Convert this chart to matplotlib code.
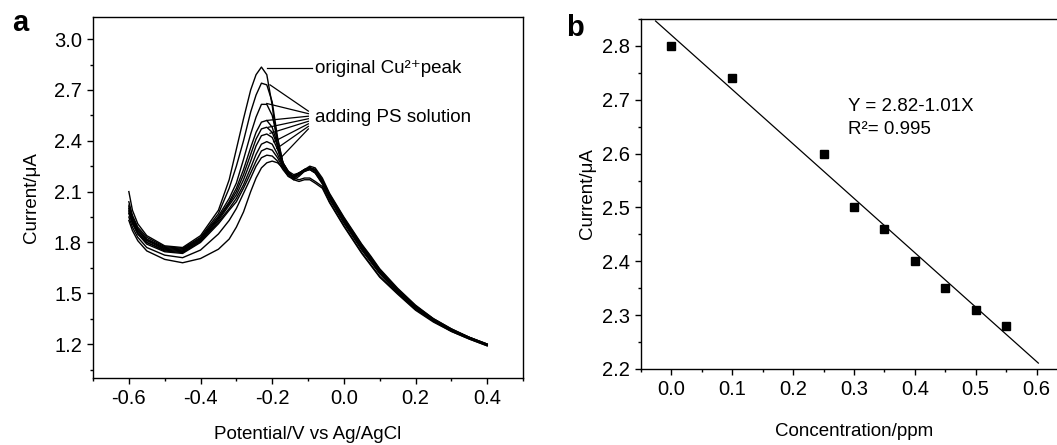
import matplotlib
matplotlib.use("Agg")
import matplotlib.pyplot as plt
from matplotlib.ticker import MultipleLocator

plt.rcParams['font.family'] = ['Liberation Sans', 'DejaVu Sans']

# Panel a: stripping voltammograms (potential in V, current in uA)
potential = [-0.60, -0.59, -0.575, -0.55, -0.50, -0.45, -0.40, -0.35, -0.32, -0.30,
             -0.28, -0.26, -0.245, -0.23, -0.215, -0.20, -0.185, -0.17, -0.155, -0.14,
             -0.125, -0.11, -0.095, -0.08, -0.06, -0.04, -0.02, 0.00, 0.025, 0.05,
             0.075, 0.10, 0.15, 0.20, 0.25, 0.30, 0.35, 0.40]

curve_original = [2.10, 1.99, 1.91, 1.84, 1.78, 1.77, 1.84, 1.99, 2.17, 2.35, 2.53, 2.70, 2.79, 2.835,
                  2.79, 2.61, 2.36, 2.25, 2.21, 2.17, 2.16, 2.17, 2.17, 2.15, 2.12, 2.035, 1.965,
                  1.895, 1.815, 1.735, 1.665, 1.595, 1.495, 1.40, 1.33, 1.275, 1.23, 1.19]
curve_ps1 = [2.04, 1.96, 1.89, 1.83, 1.775, 1.765, 1.83, 1.97, 2.12, 2.25, 2.40, 2.57, 2.67, 2.74,
             2.73, 2.63, 2.42, 2.27, 2.22, 2.18, 2.17, 2.18, 2.18, 2.16, 2.13, 2.04, 1.97, 1.90,
             1.82, 1.74, 1.67, 1.60, 1.50, 1.405, 1.335, 1.275, 1.23, 1.19]
curve_ps2 = [2.02, 1.95, 1.88, 1.82, 1.77, 1.76, 1.825, 1.955, 2.06, 2.15, 2.29, 2.44, 2.54, 2.615,
             2.615, 2.55, 2.41, 2.27, 2.22, 2.20, 2.21, 2.22, 2.23, 2.21, 2.145, 2.055, 1.985, 1.915,
             1.835, 1.755, 1.685, 1.615, 1.505, 1.41, 1.34, 1.28, 1.235, 1.195]
curve_ps3 = [2.01, 1.94, 1.87, 1.815, 1.765, 1.755, 1.82, 1.945, 2.04, 2.12, 2.23, 2.36, 2.45, 2.51,
             2.52, 2.48, 2.38, 2.27, 2.21, 2.19, 2.20, 2.22, 2.23, 2.21, 2.15, 2.06, 1.99, 1.92,
             1.84, 1.76, 1.69, 1.62, 1.51, 1.415, 1.34, 1.28, 1.235, 1.195]
curve_ps4 = [2.00, 1.93, 1.87, 1.81, 1.76, 1.75, 1.815, 1.94, 2.03, 2.10, 2.20, 2.32, 2.41, 2.47,
             2.48, 2.45, 2.37, 2.27, 2.21, 2.19, 2.21, 2.23, 2.24, 2.22, 2.155, 2.065, 1.995, 1.925,
             1.845, 1.765, 1.695, 1.625, 1.515, 1.415, 1.34, 1.28, 1.235, 1.195]
curve_ps5 = [1.99, 1.92, 1.86, 1.80, 1.755, 1.745, 1.81, 1.93, 2.02, 2.08, 2.17, 2.28, 2.37, 2.43,
             2.44, 2.42, 2.35, 2.26, 2.20, 2.19, 2.21, 2.23, 2.24, 2.22, 2.16, 2.07, 2.00, 1.93,
             1.85, 1.77, 1.70, 1.625, 1.515, 1.42, 1.345, 1.285, 1.235, 1.195]
curve_ps6 = [1.98, 1.92, 1.85, 1.80, 1.75, 1.74, 1.805, 1.92, 2.00, 2.06, 2.14, 2.24, 2.32, 2.38,
             2.395, 2.38, 2.32, 2.25, 2.20, 2.19, 2.21, 2.23, 2.24, 2.23, 2.165, 2.075, 2.005, 1.935,
             1.855, 1.775, 1.705, 1.63, 1.52, 1.42, 1.345, 1.285, 1.24, 1.195]
curve_ps7 = [1.97, 1.91, 1.85, 1.79, 1.745, 1.735, 1.80, 1.91, 1.99, 2.04, 2.12, 2.21, 2.28, 2.34,
             2.355, 2.345, 2.30, 2.24, 2.19, 2.18, 2.20, 2.22, 2.24, 2.23, 2.165, 2.08, 2.01, 1.94,
             1.86, 1.78, 1.71, 1.635, 1.52, 1.425, 1.345, 1.285, 1.24, 1.20]
curve_ps8 = [1.95, 1.89, 1.83, 1.77, 1.725, 1.71, 1.755, 1.85, 1.93, 2.00, 2.09, 2.18, 2.25, 2.30,
             2.315, 2.31, 2.28, 2.23, 2.19, 2.17, 2.19, 2.22, 2.24, 2.23, 2.17, 2.085, 2.015, 1.945,
             1.865, 1.785, 1.715, 1.64, 1.525, 1.425, 1.35, 1.29, 1.24, 1.20]
curve_ps9 = [1.93, 1.87, 1.81, 1.75, 1.70, 1.68, 1.705, 1.76, 1.82, 1.89, 1.98, 2.10, 2.18, 2.24,
             2.27, 2.28, 2.27, 2.24, 2.21, 2.18, 2.20, 2.23, 2.25, 2.24, 2.18, 2.09, 2.02, 1.95,
             1.87, 1.79, 1.72, 1.645, 1.53, 1.43, 1.35, 1.29, 1.24, 1.20]

curves = [curve_original, curve_ps1, curve_ps2, curve_ps3, curve_ps4,
          curve_ps5, curve_ps6, curve_ps7, curve_ps8, curve_ps9]

# leader line anchors for the "adding PS solution" label (peak side -> label side)
leader_start_x = [-0.206, -0.215, -0.215, -0.21, -0.206, -0.196, -0.187, -0.173]
leader_start_y = [2.73, 2.62, 2.52, 2.48, 2.444, 2.394, 2.355, 2.306]
leader_end_y = [2.575, 2.56, 2.545, 2.53, 2.515, 2.50, 2.485, 2.47]

# Panel b: calibration
concentration = [0.0, 0.1, 0.25, 0.3, 0.35, 0.4, 0.45, 0.5, 0.55]
peak_current = [2.80, 2.74, 2.60, 2.50, 2.46, 2.40, 2.35, 2.31, 2.28]
fit_intercept = 2.82
fit_slope = -1.01
fit_range = [-0.026, 0.603]

fig = plt.figure(figsize=(10.57, 4.45), dpi=100)

# ---- panel a ----
ax1 = fig.add_axes([0.088, 0.1506, 0.4068, 0.811])
for c in curves:
    ax1.plot(potential, c, color='black', linewidth=1.0)

ax1.plot([-0.215, -0.09], [2.827, 2.827], color='black', linewidth=0.9)
ax1.text(-0.081, 2.827, 'original Cu²⁺peak', fontsize=13.5, va='center', ha='left')
for xs, ys, ye in zip(leader_start_x, leader_start_y, leader_end_y):
    ax1.plot([xs, -0.099], [ys, ye], color='black', linewidth=0.9)
ax1.text(-0.081, 2.54, 'adding PS solution', fontsize=13.5, va='center', ha='left')

ax1.set_xlim(-0.7, 0.5)
ax1.set_ylim(1.0, 3.13)
ax1.xaxis.set_minor_locator(MultipleLocator(0.1))
ax1.yaxis.set_minor_locator(MultipleLocator(0.15))
ax1.set_xticks([-0.6, -0.4, -0.2, 0.0, 0.2, 0.4])
ax1.set_xticklabels(['-0.6', '-0.4', '-0.2', '0.0', '0.2', '0.4'])
ax1.set_yticks([1.2, 1.5, 1.8, 2.1, 2.4, 2.7, 3.0])
ax1.set_xlabel('Potential/V vs Ag/AgCl', fontsize=13.5, labelpad=13)
ax1.set_ylabel('Current/μA', fontsize=13.5, labelpad=10)
fig.text(0.019, 0.948, 'a', fontsize=21, fontweight='bold', ha='center', va='center')

# ---- panel b ----
ax2 = fig.add_axes([0.6064, 0.1708, 0.403, 0.7865])
ax2.plot(fit_range, [fit_intercept + fit_slope * x for x in fit_range], color='black', linewidth=0.9)
ax2.plot(concentration, peak_current, linestyle='none', marker='s', markersize=5.5, color='black')
ax2.text(0.29, 2.687, 'Y = 2.82-1.01X', fontsize=13.5, va='center', ha='left')
ax2.text(0.29, 2.644, 'R²= 0.995', fontsize=13.5, va='center', ha='left')

ax2.set_xlim(-0.05, 0.65)
ax2.set_ylim(2.2, 2.85)
ax2.xaxis.set_minor_locator(MultipleLocator(0.05))
ax2.yaxis.set_minor_locator(MultipleLocator(0.05))
ax2.set_xticks([0.0, 0.1, 0.2, 0.3, 0.4, 0.5, 0.6])
ax2.set_xticklabels(['0.0', '0.1', '0.2', '0.3', '0.4', '0.5', '0.6'])
ax2.set_yticks([2.2, 2.3, 2.4, 2.5, 2.6, 2.7, 2.8])
ax2.set_xlabel('Concentration/ppm', fontsize=13.5, labelpad=17)
ax2.set_ylabel('Current/μA', fontsize=13.5, labelpad=4)
fig.text(0.544, 0.937, 'b', fontsize=21, fontweight='bold', ha='center', va='center')

for ax in (ax1, ax2):
    for s in ax.spines.values():
        s.set_linewidth(1.0)
    ax.tick_params(which='major', direction='out', length=4, width=1.0, labelsize=14.5, pad=4,
                   top=False, right=False)
    ax.tick_params(which='minor', direction='out', length=2.5, width=1.0, top=False, right=False)

fig.savefig('out.png', dpi=100)
